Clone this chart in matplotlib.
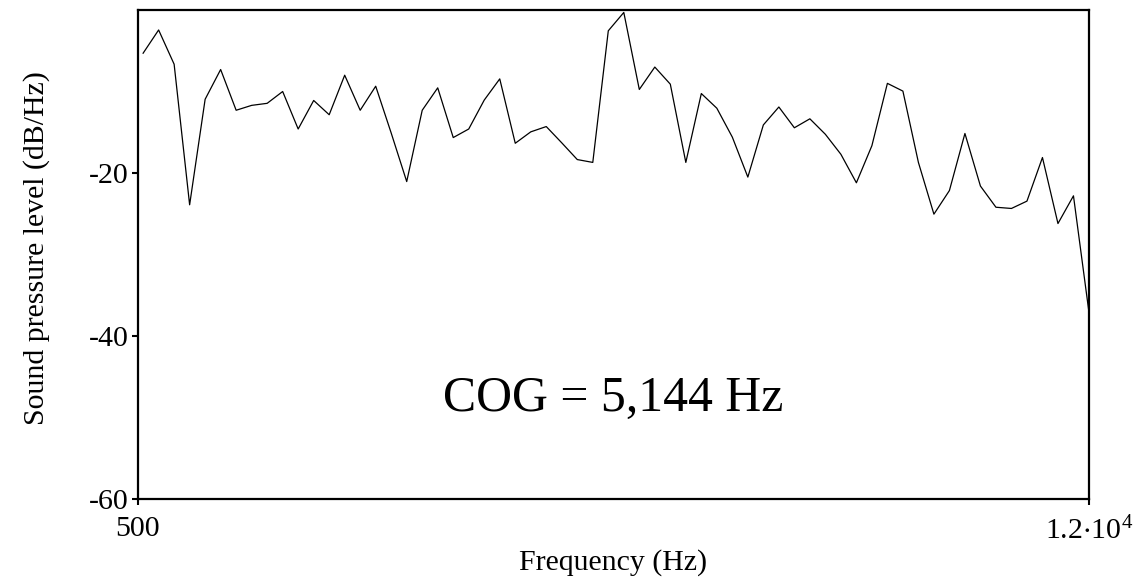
import matplotlib
matplotlib.use("Agg")
import matplotlib.pyplot as plt

plt.rcParams['font.family'] = ['Liberation Serif', 'DejaVu Serif']
plt.rcParams['mathtext.fontset'] = 'custom'
plt.rcParams['mathtext.rm'] = 'Liberation Serif'

# Spectrum bin centres (Hz) and smoothed level (dB/Hz)
freq = [562.5, 750, 937.5, 1125, 1312.5, 1500, 1687.5, 1875, 2062.5, 2250,
        2437.5, 2625, 2812.5, 3000, 3187.5, 3375, 3562.5, 3750, 3937.5, 4125,
        4312.5, 4500, 4687.5, 4875, 5062.5, 5250, 5437.5, 5625, 5812.5, 6000,
        6187.5, 6375, 6562.5, 6750, 6937.5, 7125, 7312.5, 7500, 7687.5, 7875,
        8062.5, 8250, 8437.5, 8625, 8812.5, 9000, 9187.5, 9375, 9562.5, 9750,
        9937.5, 10125, 10312.5, 10500, 10687.5, 10875, 11062.5, 11250, 11437.5, 11625,
        11812.5, 12000]
level = [-5.3, -2.45, -6.65, -23.9, -10.95, -7.3, -12.3, -11.7, -11.45, -10.0,
         -14.6, -11.1, -12.85, -8.0, -12.3, -9.35, -15.1, -21.05, -12.3, -9.55,
         -15.65, -14.6, -11.05, -8.45, -16.35, -14.95, -14.3, -16.3, -18.35, -18.7,
         -2.55, -0.3, -9.75, -7.0, -9.1, -18.7, -10.25, -12.05, -15.6, -20.5,
         -14.1, -11.9, -14.45, -13.35, -15.25, -17.7, -21.2, -16.65, -9.0, -9.95,
         -18.7, -25.05, -22.15, -15.15, -21.6, -24.2, -24.35, -23.45, -18.1, -26.2,
         -22.8, -37.1]

cog_hz = 5144

fig = plt.figure(figsize=(11.41, 5.82), dpi=100)
ax = fig.add_axes([0.1209, 0.1426, 0.8335, 0.8402])

ax.plot(freq, level, color='black', linewidth=0.9)

ax.set_xlim(500, 12000)
ax.set_ylim(-60, 0)
ax.set_xticks([500, 12000])
ax.set_xticklabels(['500', r'$\mathregular{1.2{\cdot}10^{4}}$'])
ax.set_yticks([-20, -40, -60])
ax.set_yticklabels(['-20', '-40', '-60'])

for s in ax.spines.values():
    s.set_linewidth(1.6)
ax.tick_params(direction='out', length=4.5, width=1.5, labelsize=21.5)
ax.tick_params(axis='x', pad=8)
ax.tick_params(axis='y', pad=2)

ax.set_xlabel('Frequency (Hz)', fontsize=21.5)
ax.set_ylabel('Sound pressure level (dB/Hz)', fontsize=21.5)
ax.xaxis.set_label_coords(0.5, -0.102)
ax.yaxis.set_label_coords(-0.0925, 0.513)

ax.text(0.5, 0.205, f'COG = {cog_hz:,} Hz', transform=ax.transAxes,
        ha='center', va='center', fontsize=35.8)

fig.savefig('out.png', dpi=100)
